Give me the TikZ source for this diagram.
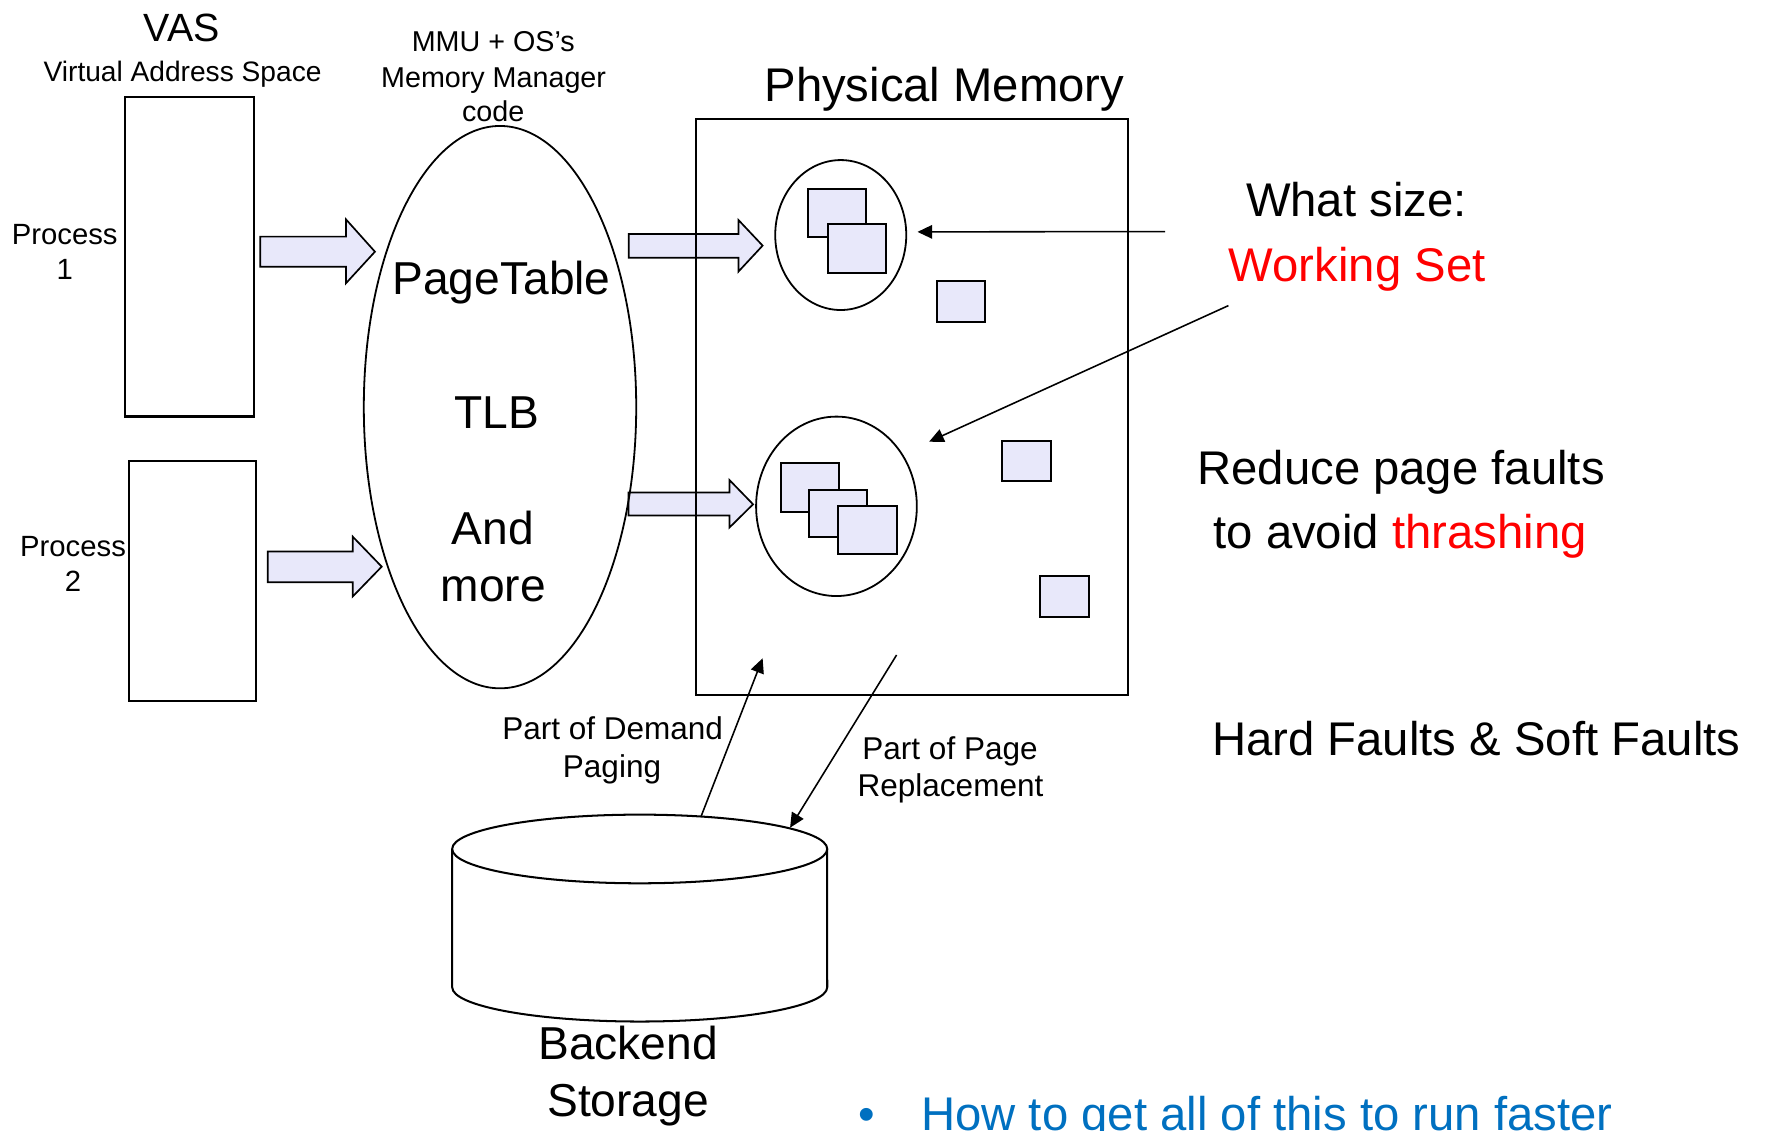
\documentclass[tikz,border=0pt]{standalone}
\usepackage{fontspec}
\setmainfont{Liberation Sans}
\usetikzlibrary{shapes.geometric,arrows.meta}
\definecolor{pagefill}{RGB}{232,232,250}
\definecolor{slideblue}{RGB}{0,112,192}
\definecolor{hotred}{RGB}{255,0,0}
\newcommand{\setfs}[1]{\fontsize{#1}{#1}\selectfont}
\begin{document}
\begin{tikzpicture}[x=1pt,y=-1pt,
  txt/.style={inner sep=0pt, anchor=base},
  box/.style={draw, line width=1.8pt, inner sep=0pt},
  page/.style={draw, fill=pagefill, line width=1.8pt, inner sep=0pt},
  barrow/.style={draw, fill=pagefill, line width=1.5pt, line join=miter},
  ptr/.style={line width=1.4pt, -{Triangle[length=13pt,width=12pt]}},
  oval/.style={draw, ellipse, line width=1.6pt, inner sep=0pt}]
\useasboundingbox (0,0) rectangle (1568,1004);

% ---- block arrows (drawn first, borders over them) ----
\draw[barrow] (231.2,210.2) -- (307.3,210.2) -- (307.3,194.8) -- (333.1,223.6) -- (307.3,251.7) -- (307.3,236.9) -- (231.2,236.9) -- cycle;
\draw[barrow] (237.9,490) -- (313.3,490) -- (313.3,476.7) -- (339.1,503.4) -- (313.3,530) -- (313.3,517.3) -- (237.9,517.3) -- cycle;
\draw[barrow] (558.5,207.9) -- (656,207.9) -- (656,195.4) -- (677.5,218.2) -- (656,241.3) -- (656,228.9) -- (558.5,228.9) -- cycle;
\draw[barrow] (558.3,437.6) -- (648,437.6) -- (648,426.4) -- (669,448) -- (648,468.7) -- (648,458) -- (558.3,458) -- cycle;

% ---- VAS ----
\node[txt, font=\setfs{35}] (vas) at (161.6,36.9) {VAS};
\node[txt, font=\setfs{25}] (vasfull) at (162.2,72.5) {Virtual Address Space};
\node[box, minimum width=114.3pt, minimum height=284pt] (p1) at (168.2,228) {};
\node[box, minimum width=112.2pt, minimum height=213.2pt] (p2) at (171.1,515.8) {};
\node[txt, font=\setfs{26}] (p1a) at (57.5,217.6) {Process};
\node[txt, font=\setfs{26}] (p1b) at (57.5,248.7) {1};
\node[txt, font=\setfs{26}] (p2a) at (64.9,494.5) {Process};
\node[txt, font=\setfs{26}] (p2b) at (64.9,525.6) {2};

% ---- MMU ----
\node[txt, font=\setfs{25.5}] (mmu1) at (438.2,45.9) {MMU + OS’s};
\node[txt, font=\setfs{25.5}] (mmu2) at (438.5,77.6) {Memory Manager};
\node[txt, font=\setfs{25.5}] (mmu3) at (438.2,108.2) {code};
\node[oval, minimum width=242pt, minimum height=499.6pt] (mmu) at (444.2,361.7) {};
\node[txt, font=\setfs{41}] (pt) at (445.6,262) {PageTable};
\node[txt, font=\setfs{41}] (tlb) at (441.2,381) {TLB};
\node[txt, font=\setfs{41}] (and) at (437.8,483.3) {And};
\node[txt, font=\setfs{41}] (more) at (438.2,534.5) {more};

% ---- Physical memory ----
\node[txt, font=\setfs{42}] (pmt) at (839,90.5) {Physical Memory};
\node[box, minimum width=384pt, minimum height=511.4pt] (pm) at (810,361.7) {};
\node[oval, minimum width=116.4pt, minimum height=133.2pt] (ws1) at (746.9,208.8) {};
\node[oval, minimum width=142.8pt, minimum height=159.4pt] (ws2) at (743.1,449.8) {};
\node[page, minimum width=51.4pt, minimum height=42.6pt] (pa) at (743.3,188.9) {};
\node[page, minimum width=51.4pt, minimum height=42.9pt] (pb) at (761.3,220.75) {};
\node[page, minimum width=43.2pt, minimum height=36.4pt] (pc) at (853.8,268.1) {};
\node[page, minimum width=52.1pt, minimum height=42.9pt] (s1) at (719.45,433.05) {};
\node[page, minimum width=51.4pt, minimum height=42pt] (s2) at (744.6,456.3) {};
\node[page, minimum width=52.1pt, minimum height=42.9pt] (s3) at (770.45,470.95) {};
\node[page, minimum width=43.4pt, minimum height=35.5pt] (pd) at (911.7,409.25) {};
\node[page, minimum width=43.5pt, minimum height=36.4pt] (pe) at (945.65,529.6) {};

% ---- right texts ----
\node[txt, font=\setfs{42}] (what) at (1205,192.7) {What size:};
\node[txt, font=\setfs{42}, text=hotred] (wset) at (1205.7,250.2) {Working Set};
\node[txt, font=\setfs{42}] (red1) at (1244.7,430.3) {Reduce page faults};
\node[txt, font=\setfs{42}] (red2) at (1243.8,487) {to avoid \textcolor{hotred}{thrashing}};
\node[txt, font=\setfs{42}] (hard) at (1311.5,671) {Hard Faults \& Soft Faults};

% ---- working-set pointers ----
\coordinate (wsA) at (1035,205.7);
\coordinate (wsAend) at (815.1,206);
\coordinate (wsB) at (1091.3,271.5);
\coordinate (wsBend) at (825.4,392.4);
\draw[ptr] (wsA) -- (wsAend);
\draw[ptr] (wsB) -- (wsBend);

% ---- backend storage ----
\coordinate (disk) at (568.3,754.2);
\draw[line width=1.8pt, fill=white] (401.7,754.2) -- (401.7,877) arc[start angle=180, end angle=360, x radius=166.6pt, y radius=30.5pt] -- (734.8,754.2);
\draw[line width=1.8pt, fill=white] (disk) ellipse [x radius=166.6pt, y radius=30.5pt];
\node[txt, font=\setfs{41}] (be1) at (558,941.6) {Backend};
\node[txt, font=\setfs{41}] (be2) at (558,992) {Storage};

\coordinate (dpS) at (623,724.8);
\coordinate (dpE) at (677.5,584.8);
\coordinate (prS) at (796.5,581.9);
\coordinate (prE) at (701.9,735.3);
\draw[ptr] (dpS) -- (dpE);
\draw[ptr] (prS) -- (prE);
\node[txt, font=\setfs{28}] (dp1) at (544.3,656.8) {Part of Demand};
\node[txt, font=\setfs{28}] (dp2) at (543.7,690.5) {Paging};
\node[txt, font=\setfs{28}] (pr1) at (844,674.5) {Part of Page};
\node[txt, font=\setfs{28}] (pr2) at (844.4,707.7) {Replacement};

% ---- bottom bullet ----
\node[txt, font=\setfs{42}, text=slideblue] (bul) at (769.6,1004.3) {•};
\node[txt, anchor=base west, font=\setfs{42}, text=slideblue] (faster) at (818.3,1004.3) {How to get all of this to run faster};
\end{tikzpicture}
\end{document}
